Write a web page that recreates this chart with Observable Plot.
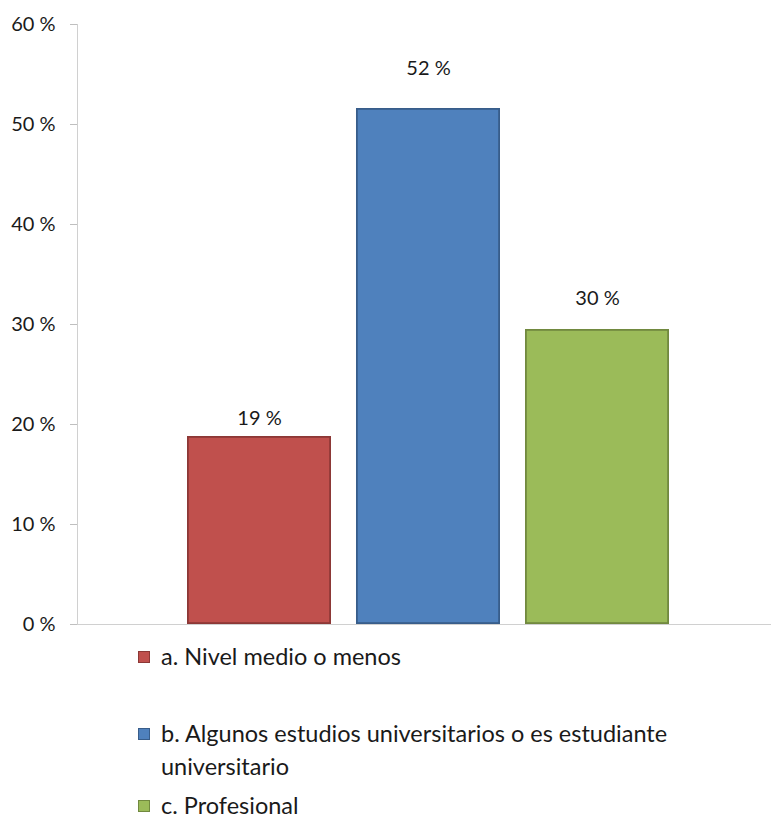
<!DOCTYPE html>
<html>
<head>
<meta charset="utf-8">
<script src="https://cdn.jsdelivr.net/npm/d3@7"></script>
<script src="https://cdn.jsdelivr.net/npm/@observablehq/plot@0.6"></script>
<style>
  html, body { margin: 0; padding: 0; background: #fff; }
  #chart { width: 771px; }
  .legend { font-family: Lato, "Open Sans", sans-serif; font-size: 23.5px; color: #1a1a1a; padding-left: 138px; width: 580px; }
  .item { display: flex; align-items: flex-start; line-height: 33px; }
  .sw { width: 10px; height: 10px; margin-top: 11px; margin-right: 11px; flex: none; border: 1px solid; }
</style>
</head>
<body>
<div id="chart"></div>
<script>
const categories = ["a. Nivel medio o menos", "b. Algunos estudios universitarios o es estudiante universitario", "c. Profesional"];
const values = [18.8, 51.6, 29.5];
const labels = ["19 %", "52 %", "30 %"];
const colors = ["#c0504d", "#4f81bd", "#9bbb59"];
const borders = ["#8c3836", "#385d8a", "#71893f"];
const yTicks = [0, 10, 20, 30, 40, 50, 60];

const data = categories.map((c, i) => ({cat: c, value: values[i], label: labels[i]}));
const labelDy = [-18, -40, -31];

const plot = Plot.plot({
  width: 771,
  height: 640,
  marginLeft: 77,
  marginRight: 0,
  marginTop: 24,
  marginBottom: 16,
  style: {fontFamily: "Lato, 'Open Sans', sans-serif", fontSize: "20px", background: "#fff", color: "#262626"},
  x: {domain: categories, range: [173.6, 682.1], paddingInner: 0.145, paddingOuter: 0.0725, axis: null},
  y: {domain: [0, 60], ticks: yTicks, label: null},
  color: {domain: categories, range: colors},
  marks: [
    Plot.barY(data, {x: "cat", y: "value", fill: "cat", stroke: d => borders[categories.indexOf(d.cat)], strokeWidth: 1.8, inset: 0.9}),
    Plot.frame({anchor: "left", stroke: "#d0d0d0"}),
    Plot.ruleY([0], {stroke: "#d0d0d0"}),
    Plot.axisY({ticks: yTicks, tickFormat: d => d + " %", tickSize: 7, tickPadding: 15, stroke: "#bfbfbf", fill: "#1a1a1a", fontSize: 20, label: null}),
    ...categories.map((c, i) => Plot.text(data.filter(d => d.cat === c), {x: "cat", y: "value", text: "label", dy: labelDy[i], fontSize: 20, fill: "#1a1a1a"}))
  ]
});
document.getElementById("chart").appendChild(plot);

const legend = document.createElement("div");
legend.className = "legend";
const gaps = [0, 44, 6];
categories.forEach((c, i) => {
  const item = document.createElement("div");
  item.className = "item";
  item.style.marginTop = gaps[i] + "px";
  const sw = document.createElement("span");
  sw.className = "sw";
  sw.style.background = colors[i];
  sw.style.borderColor = borders[i];
  const t = document.createElement("span");
  t.textContent = c;
  item.appendChild(sw);
  item.appendChild(t);
  legend.appendChild(item);
});
document.getElementById("chart").appendChild(legend);
</script>
</body>
</html>
